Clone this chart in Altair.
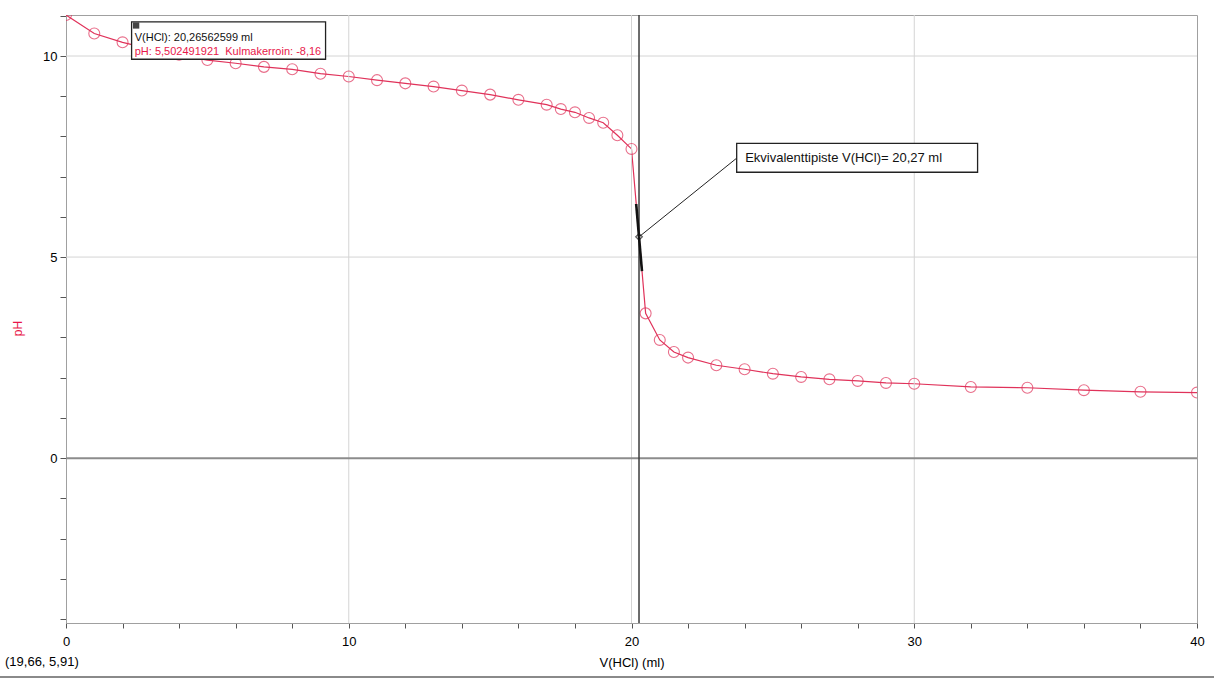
import altair as alt
import pandas as pd

# ---- data ----
v_hcl = [0, 1, 2, 3, 4, 5, 6, 7, 8, 9, 10, 11, 12, 13, 14, 15, 16, 17, 17.5, 18, 18.5,
         19, 19.5, 20, 20.5, 21, 21.5, 22, 23, 24, 25, 26, 27, 28, 29, 30, 32, 34, 36, 38, 40]
ph = [11.02, 10.56, 10.34, 10.17, 10.03, 9.90, 9.82, 9.73, 9.67, 9.56, 9.49, 9.40, 9.32,
      9.24, 9.14, 9.04, 8.91, 8.79, 8.68, 8.60, 8.46, 8.34, 8.03, 7.69, 3.60, 2.94, 2.64,
      2.50, 2.31, 2.21, 2.10, 2.02, 1.96, 1.92, 1.87, 1.85, 1.77, 1.75, 1.69, 1.65, 1.63]

eq_v = 20.26562599
eq_ph = 5.502491921
slope = -8.16
tangent_ph = [6.32, 4.65]          # pH span of the drawn tangent segment

x_ticks = list(range(0, 41, 2))
y_ticks = list(range(-4, 12))
x_grid = [10, 20, 30]
y_grid = [5, 10]

cursor_text = "(19,66, 5,91)"
box1_line1 = "V(HCl): 20,26562599 ml"
box1_line2 = "pH: 5,502491921\u00a0\u00a0Kulmakerroin: -8,16"
box2_text = "Ekvivalenttipiste V(HCl)= 20,27 ml"

RED = "#e0325a"
FONT = "Liberation Sans"

xs = alt.Scale(domain=[0, 40], nice=False, zero=False)
ys = alt.Scale(domain=[-4.1, 11.02], nice=False, zero=False)


def X(f):
    return alt.X(f, scale=xs)


def Y(f):
    return alt.Y(f, scale=ys)


df = pd.DataFrame({"v": v_hcl, "ph": ph})

x_axis = alt.Axis(values=x_ticks, labelExpr="datum.value % 10 === 0 ? datum.label : ''",
                  grid=False, tickSize=5, tickColor="#555555", domainColor="#a0a0a0",
                  labelFont=FONT, labelFontSize=13, labelColor="#000000", labelPadding=7,
                  labelFlush=False, labelOverlap=False, title="V(HCl) (ml)", titleFont=FONT,
                  titleFontSize=13, titleFontWeight="normal", titleColor="#000000", titleY=39,
                  titleBaseline="middle")
y_axis = alt.Axis(values=y_ticks, labelExpr="datum.value % 5 === 0 ? datum.label : ''",
                  grid=False, tickSize=6, tickColor="#555555", domainColor="#a0a0a0",
                  labelFont=FONT, labelFontSize=13, labelColor="#000000", labelPadding=3,
                  labelFlush=False, labelOverlap=False, title="pH", titleFont=FONT,
                  titleFontSize=12, titleFontWeight="normal", titleColor="#e8174a",
                  titleX=-49, titleY=313, titleAngle=270, titleAlign="center",
                  titleBaseline="middle")

# base layer carrying the axes (the curve)
line = alt.Chart(df).mark_line(color=RED, strokeWidth=1.2, clip=True).encode(
    x=alt.X("v:Q", scale=xs, axis=x_axis), y=alt.Y("ph:Q", scale=ys, axis=y_axis))

# gridlines
vgrid = alt.Chart(pd.DataFrame({"v": x_grid})).mark_rule(color="#d4d4d4", strokeWidth=1).encode(
    x=X("v:Q"))
hgrid = alt.Chart(pd.DataFrame({"ph": y_grid})).mark_rule(color="#d4d4d4", strokeWidth=1).encode(
    y=Y("ph:Q"))
zero = alt.Chart(pd.DataFrame({"ph": [0]})).mark_rule(color="#8c8c8c", strokeWidth=2).encode(
    y=Y("ph:Q"))

pts = alt.Chart(df).mark_point(shape="circle", filled=False, color=RED, size=120,
                               strokeWidth=1.1, clip=True).encode(x=X("v:Q"), y=Y("ph:Q"))

cursor = alt.Chart(pd.DataFrame({"v": [eq_v]})).mark_rule(color="#3c3c3c", strokeWidth=1.5).encode(
    x=X("v:Q"))

tan_df = pd.DataFrame({
    "v": [eq_v - (tangent_ph[0] - eq_ph) / -slope],
    "ph": [tangent_ph[0]],
    "v2": [eq_v + (eq_ph - tangent_ph[1]) / -slope],
    "ph2": [tangent_ph[1]],
})
tangent = alt.Chart(tan_df).mark_rule(color="#111111", strokeWidth=2.6).encode(
    x=X("v:Q"), y=Y("ph:Q"), x2="v2:Q", y2="ph2:Q")

# annotation box 2 (equivalence point label), placed in data units
b2 = {"v": 23.72, "v2": 32.24, "ph": 7.83, "ph2": 7.11}
leader = alt.Chart(pd.DataFrame({"v": [b2["v"]], "ph": [7.46], "v2": [eq_v], "ph2": [eq_ph]})).mark_rule(
    color="#222222", strokeWidth=1).encode(x=X("v:Q"), y=Y("ph:Q"), x2="v2:Q", y2="ph2:Q")
eqmark = alt.Chart(pd.DataFrame({"v": [eq_v], "ph": [eq_ph]})).mark_point(
    shape="diamond", filled=False, color="#111111", size=45, strokeWidth=1.2).encode(
    x=X("v:Q"), y=Y("ph:Q"))
box2 = alt.Chart(pd.DataFrame([b2])).mark_rect(fill="white", stroke="#222222", strokeWidth=1.3).encode(
    x=X("v:Q"), x2="v2:Q", y=Y("ph:Q"), y2="ph2:Q")
box2_t = alt.Chart(pd.DataFrame({"v": [24.02], "ph": [7.47], "t": [box2_text]})).mark_text(
    align="left", baseline="middle", font=FONT, fontSize=13, color="#111111").encode(
    x=X("v:Q"), y=Y("ph:Q"), text="t:N")

# annotation box 1 (examine readout)
b1 = {"v": 2.32, "v2": 9.18, "ph": 10.85, "ph2": 9.92}
box1 = alt.Chart(pd.DataFrame([b1])).mark_rect(fill="white", stroke="#222222", strokeWidth=1.3).encode(
    x=X("v:Q"), x2="v2:Q", y=Y("ph:Q"), y2="ph2:Q")
box1_sq = alt.Chart(pd.DataFrame({"v": [2.48], "ph": [10.76]})).mark_square(
    size=40, color="#444444", opacity=1).encode(x=X("v:Q"), y=Y("ph:Q"))
box1_t = alt.Chart(pd.DataFrame({"v": [2.43, 2.43], "ph": [10.38, 10.02],
                                 "t": [box1_line1, box1_line2], "c": ["#111111", "#e8174a"]})).mark_text(
    align="left", baseline="alphabetic", font=FONT, fontSize=11).encode(
    x=X("v:Q"), y=Y("ph:Q"), text="t:N", color=alt.Color("c:N", scale=None, legend=None))

corner = alt.Chart(pd.DataFrame({"t": [cursor_text]})).mark_text(
    align="left", baseline="middle", font=FONT, fontSize=13, color="#000000").encode(
    x=alt.value(-61), y=alt.value(647), text="t:N")
bottom = alt.Chart(pd.DataFrame({"a": [0]})).mark_rule(color="#8a8a8a", strokeWidth=2).encode(
    x=alt.value(-66), x2=alt.value(1148), y=alt.value(662))

chart = alt.layer(
    line, vgrid, hgrid, zero, pts, cursor, tangent, leader, eqmark,
    box2, box2_t, box1, box1_sq, box1_t, corner, bottom
).properties(
    width=1131, height=608,
    autosize=alt.AutoSizeParams(type="none"),
    padding={"left": 66, "top": 15, "right": 17, "bottom": 57},
    background="white",
).configure_view(stroke="#a0a0a0", strokeWidth=1)

chart.save("out.html", embed_options={"renderer": "svg", "actions": False})
